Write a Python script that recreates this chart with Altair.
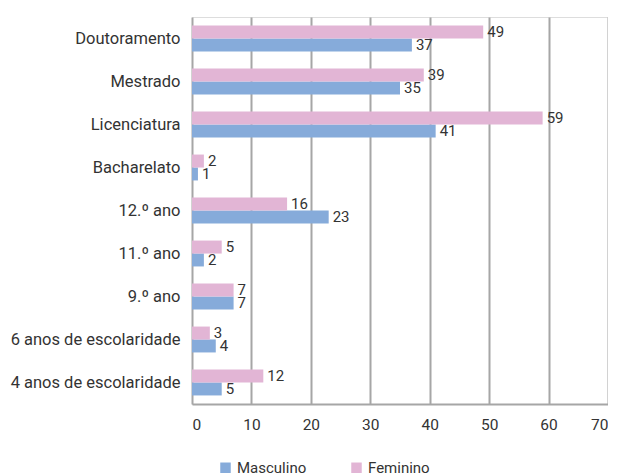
import altair as alt
import pandas as pd

categories = ["Doutoramento", "Mestrado", "Licenciatura", "Bacharelato", "12.º ano",
              "11.º ano", "9.º ano", "6 anos de escolaridade", "4 anos de escolaridade"]
masculino = [37, 35, 41, 1, 23, 2, 7, 4, 5]
feminino = [49, 39, 59, 2, 16, 5, 7, 3, 12]
series = ["Masculino", "Feminino"]
colors = ["#86ABDA", "#E2B5D5"]
x_ticks = [0, 10, 20, 30, 40, 50, 60, 70]

rows = []
for c, m, f in zip(categories, masculino, feminino):
    rows.append({"cat": c, "sexo": "Masculino", "v": m})
    rows.append({"cat": c, "sexo": "Feminino", "v": f})
df = pd.DataFrame(rows)

font = "Roboto"
txt = "#333333"

y = alt.Y("cat:N", sort=categories, title=None,
          scale=alt.Scale(paddingInner=0.4, paddingOuter=0.2),
          axis=alt.Axis(ticks=False, domain=False, labelFontSize=16.5, labelColor=txt,
                        labelPadding=12, labelFont=font, grid=False))
x = alt.X("v:Q", title=None,
          scale=alt.Scale(domain=[0, 70], nice=False),
          axis=alt.Axis(values=x_ticks, ticks=False, grid=True, gridColor="#A6A6A6", gridWidth=2,
                        domain=True, domainColor="#A6A6A6", domainWidth=2,
                        labelFontSize=15.5, labelColor=txt, labelPadding=13, labelFont=font))
yoff = alt.YOffset("sexo:N", sort=["Feminino", "Masculino"], scale=alt.Scale(paddingInner=0, paddingOuter=0))

bars = alt.Chart(df).mark_bar(size=13).encode(
    y=y, x=x, yOffset=yoff,
    color=alt.Color("sexo:N", scale=alt.Scale(domain=series, range=colors),
                    sort=series,
                    legend=alt.Legend(title=None, orient="none", legendX=26, legendY=443,
                                      direction="horizontal", symbolType="square",
                                      symbolSize=110, symbolStrokeWidth=0, symbolOpacity=1,
                                      labelFontSize=15, labelColor=txt, labelFont=font,
                                      columnPadding=42))
)

labels = alt.Chart(df).mark_text(align="left", baseline="middle", dx=4, fontSize=15,
                                 color=txt, font=font).encode(
    y=y, x=x, yOffset=yoff, text="v:Q"
)

chart = (bars + labels).properties(width=416, height=387).configure_view(stroke=None).configure(
    background="white", padding={"left": 2, "top": 9, "right": 0, "bottom": 5})

chart.save("out.html", embed_options={"renderer": "svg", "actions": False})
